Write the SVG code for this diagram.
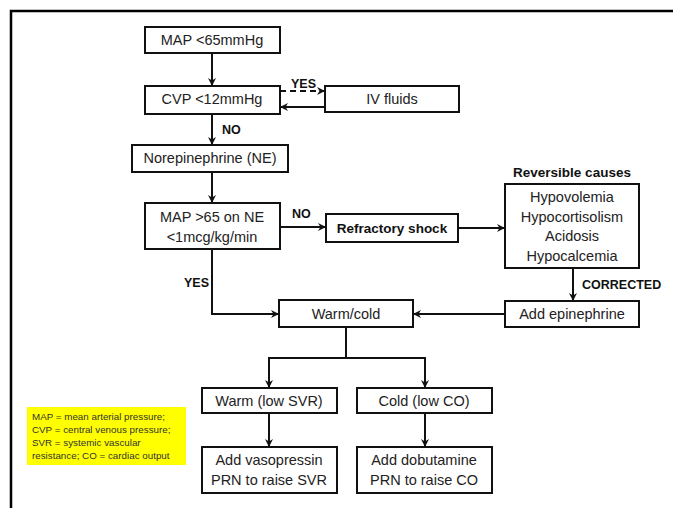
<svg xmlns="http://www.w3.org/2000/svg" width="673" height="508" viewBox="0 0 673 508">
<defs>
<marker id="ah" markerWidth="10" markerHeight="10" refX="9" refY="5" orient="auto" markerUnits="userSpaceOnUse">
<path d="M1,1 L9,5 L1,9 L3.5,5 z" fill="#111"/>
</marker>
<style>
.box{fill:#fff;stroke:#111;stroke-width:2}
.t{font-family:"Liberation Sans",Arial,sans-serif;font-size:14.5px;fill:#222;text-anchor:middle;dominant-baseline:central}
.b{font-family:"Liberation Sans",Arial,sans-serif;font-size:12.5px;font-weight:bold;fill:#111}
.tb{font-family:"Liberation Sans",Arial,sans-serif;font-size:13.5px;font-weight:bold;fill:#111;text-anchor:middle;dominant-baseline:central}
.c{fill:none;stroke:#111;stroke-width:2}
.leg{font-family:"Liberation Sans",Arial,sans-serif;font-size:9.8px;fill:#333}
</style>
</defs>
<rect width="673" height="508" fill="#fff"/>
<polyline points="11,508 11,11 673,11" fill="none" stroke="#000" stroke-width="2.5"/>

<g id="connectors">
<line class="c" x1="212" y1="53" x2="212" y2="86" marker-end="url(#ah)"/>
<line class="c" x1="280" y1="91" x2="325" y2="91" stroke-dasharray="6,4" marker-end="url(#ah)"/>
<line class="c" x1="325" y1="107" x2="280" y2="107" marker-end="url(#ah)"/>
<line class="c" x1="212" y1="114" x2="212" y2="145" marker-end="url(#ah)"/>
<line class="c" x1="212" y1="172" x2="212" y2="203" marker-end="url(#ah)"/>
<line class="c" x1="280" y1="227" x2="326" y2="227" marker-end="url(#ah)"/>
<line class="c" x1="458" y1="228" x2="505" y2="228" marker-end="url(#ah)"/>
<line class="c" x1="573" y1="268" x2="573" y2="301" marker-end="url(#ah)"/>
<line class="c" x1="505" y1="314" x2="413" y2="314" marker-end="url(#ah)"/>
<polyline class="c" points="212,249 212,314 279,314" marker-end="url(#ah)"/>
<polyline class="c" points="346,327 346,358 269,358 269,388" marker-end="url(#ah)"/>
<polyline class="c" points="346,358 425,358 425,388" marker-end="url(#ah)"/>
<line class="c" x1="269" y1="413" x2="269" y2="447" marker-end="url(#ah)"/>
<line class="c" x1="425" y1="413" x2="425" y2="447" marker-end="url(#ah)"/>
<text class="b" x="291" y="88">YES</text>
<text class="b" x="222" y="134">NO</text>
<text class="b" x="292" y="218">NO</text>
<text class="b" x="184" y="287">YES</text>
<text class="b" x="582" y="289">CORRECTED</text>
</g>

<g id="map65">
<rect class="box" x="145" y="27" width="135" height="26"/>
<text class="t" x="212" y="40">MAP &lt;65mmHg</text>
</g>
<g id="cvp">
<rect class="box" x="145" y="86" width="135" height="28"/>
<text class="t" x="212" y="99">CVP &lt;12mmHg</text>
</g>
<g id="ivfluids">
<rect class="box" x="325" y="86" width="134" height="26"/>
<text class="t" x="392" y="99">IV fluids</text>
</g>
<g id="ne">
<rect class="box" x="132" y="145" width="156" height="27"/>
<text class="t" x="210" y="158">Norepinephrine (NE)</text>
</g>
<g id="map65ne">
<rect class="box" x="145" y="203" width="135" height="46"/>
<text class="t" x="212" y="217">MAP &gt;65 on NE</text>
<text class="t" x="212" y="237">&lt;1mcg/kg/min</text>
</g>
<g id="refractory">
<rect class="box" x="326" y="214" width="132" height="28"/>
<text class="tb" x="392" y="228">Refractory shock</text>
</g>
<g id="reversible">
<text class="tb" x="572" y="172">Reversible causes</text>
<rect class="box" x="505" y="184" width="134" height="84"/>
<text class="t" x="572" y="197">Hypovolemia</text>
<text class="t" x="572" y="217">Hypocortisolism</text>
<text class="t" x="572" y="236">Acidosis</text>
<text class="t" x="572" y="256">Hypocalcemia</text>
</g>
<g id="epinephrine">
<rect class="box" x="505" y="301" width="134" height="26"/>
<text class="t" x="572" y="314">Add epinephrine</text>
</g>
<g id="warmcold">
<rect class="box" x="279" y="300" width="134" height="27"/>
<text class="t" x="346" y="314">Warm/cold</text>
</g>
<g id="warm">
<rect class="box" x="202" y="388" width="135" height="25"/>
<text class="t" x="269" y="401">Warm (low SVR)</text>
</g>
<g id="cold">
<rect class="box" x="357" y="388" width="135" height="25"/>
<text class="t" x="424" y="401">Cold (low CO)</text>
</g>
<g id="vasopressin">
<rect class="box" x="202" y="447" width="135" height="46"/>
<text class="t" x="269" y="460">Add vasopressin</text>
<text class="t" x="269" y="480">PRN to raise SVR</text>
</g>
<g id="dobutamine">
<rect class="box" x="357" y="447" width="135" height="46"/>
<text class="t" x="424" y="460">Add dobutamine</text>
<text class="t" x="424" y="480">PRN to raise CO</text>
</g>
<g id="legend">
<rect x="27" y="407" width="159" height="58" fill="#ffff00"/>
<text class="leg" x="32" y="420">MAP = mean arterial pressure;</text>
<text class="leg" x="32" y="433">CVP = central venous pressure;</text>
<text class="leg" x="32" y="446">SVR = systemic vascular</text>
<text class="leg" x="32" y="459">resistance; CO = cardiac output</text>
</g>
</svg>
